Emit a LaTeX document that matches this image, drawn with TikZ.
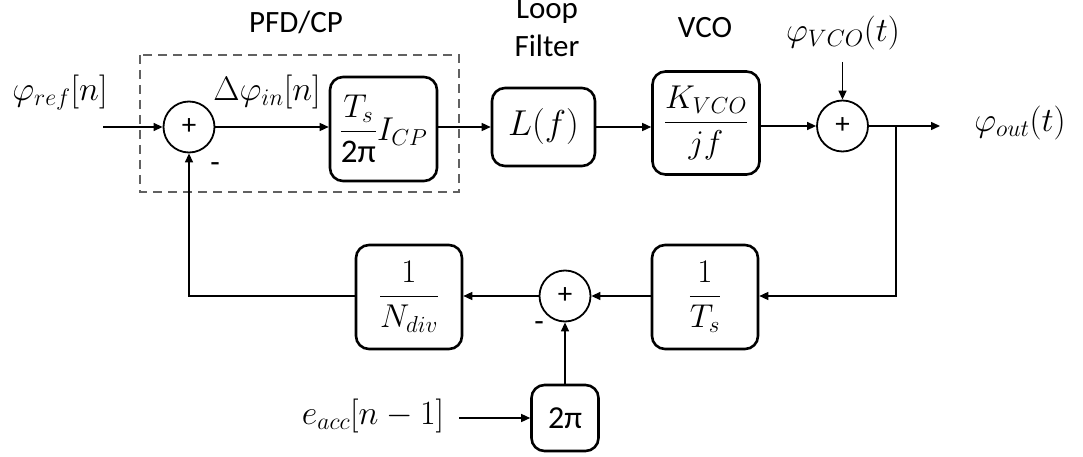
\RequirePackage{fix-cm}
\documentclass[tikz,border=0pt]{standalone}
\usepackage{amsmath}
\usepackage[no-math]{fontspec}
\setmainfont{Carlito}
\usetikzlibrary{arrows.meta}
\begin{document}
\begin{tikzpicture}[x=1pt,y=-1pt,
  blk/.style={draw, line width=2.6pt, rounded corners=13pt, inner sep=0pt, font=\fontsize{33}{38}\selectfont},
  sumc/.style={draw, circle, line width=1.8pt, minimum size=51pt, inner sep=0pt, font=\fontsize{29}{30}\selectfont},
  conn/.style={line width=1.4pt, -{Triangle[length=9pt,width=8pt]}},
  lbl/.style={font=\fontsize{31}{38}\selectfont, inner sep=0pt},
  mlbl/.style={font=\fontsize{34}{40}\selectfont, inner sep=0pt},
  pfdbox/.style={draw=black!62, line width=2.2pt, dash pattern=on 9pt off 6pt},
]
\useasboundingbox (0,0) rectangle (1083,457);
% dashed PFD/CP region
\draw[pfdbox] (140,55) rectangle (459,192);
% main row
\node[sumc] (s1) at (189,127) {+};
\node[blk, minimum width=107pt, minimum height=104pt] (ts) at (383.5,129) {$\dfrac{T_s}{\text{2π}}I_{CP}$};
\node[blk, minimum width=103pt, minimum height=78pt, font=\fontsize{36}{40}\selectfont] (lf) at (543.5,127) {$L(f)$};
\node[blk, minimum width=107pt, minimum height=103pt] (vco) at (706,123) {$\dfrac{K_{VCO}}{jf}$};
\node[sumc] (s2) at (842.5,126) {+};
\coordinate (br) at (896,126);
\coordinate (outend) at (940,126);
\coordinate (refin) at (103,127);
\coordinate (vcoin) at (842.5,62);
% labels
\node[mlbl] (phiref) at (60,93) {$\varphi_{ref}[n]$};
\node[mlbl] (dphi) at (267,92) {$\Delta\varphi_{in}[n]$};
\node[mlbl] (phivco) at (843,33) {$\varphi_{VCO}(t)$};
\node[mlbl] (phiout) at (1020,123) {$\varphi_{out}(t)$};
\node[lbl] (pfd) at (296,22) {PFD/CP};
\node[lbl, align=center] (loop) at (547,28) {Loop\\Filter};
\node[lbl] (vcol) at (705,28) {VCO};
\node[lbl] (m1) at (215,168) {-};
\node[lbl] (m2) at (539,327) {-};
% feedback row
\node[blk, minimum width=106pt, minimum height=104pt] (its) at (705,297) {$\dfrac{1}{T_s}$};
\node[sumc] (s3) at (565,296) {+};
\node[blk, minimum width=106pt, minimum height=104pt] (nd) at (409,297) {$\dfrac{1}{N_{div}}$};
\node[blk, minimum width=67pt, minimum height=66pt, font=\fontsize{32}{36}\selectfont] (tp) at (565,418) {2π};
\node[mlbl] (eacc) at (373,416) {$e_{acc}[n-1]$};
% connectors
\draw[conn] (refin) -- (s1.west);
\draw[conn] (s1.east) -- (s1.east -| ts.west);
\draw[conn] (ts.east |- s1) -- (lf.west);
\draw[conn] (lf.east) -- (lf.east -| vco.west);
\draw[conn] (vco.east |- s2) -- (s2.west);
\draw[conn] (vcoin) -- (s2.north);
\draw[conn] (s2.east) -- (outend);
\draw[conn] (br) |- (its.east |- s3);
\draw[conn] (its.west |- s3) -- (s3.east);
\draw[conn] (s3.west) -- (s3.west -| nd.east);
\draw[conn] (nd.west |- s3) -| (s1.south);
\draw[conn] ([xshift=15pt]eacc.east |- tp) -- (tp.west);
\draw[conn] (tp.north) -- (s3.south);
\end{tikzpicture}
\end{document}
